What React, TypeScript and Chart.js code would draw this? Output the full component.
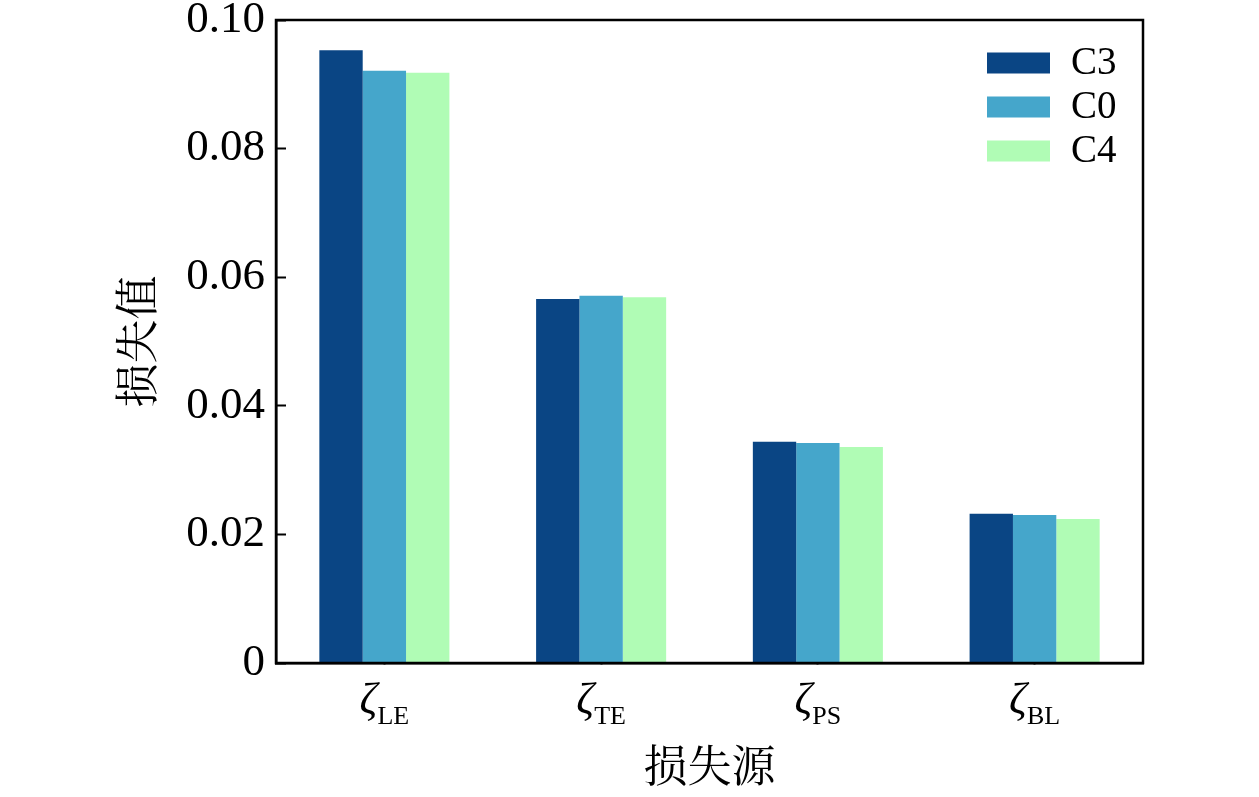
import React, { useEffect, useRef } from 'react';
import { Chart, registerables } from 'chart.js';

Chart.register(...registerables);

// loss sources (subscripts of ζ) and series
const sources = ['LE', 'TE', 'PS', 'BL'];
const seriesNames = ['C3', 'C0', 'C4'];
const c3Values = [0.0953, 0.0566, 0.0344, 0.0232];
const c0Values = [0.0921, 0.0571, 0.0342, 0.023];
const c4Values = [0.0918, 0.0569, 0.0336, 0.0224];
const seriesColors = ['#0a4584', '#45a6cb', '#b0fcb5'];
const yTickValues = [0, 0.02, 0.04, 0.06, 0.08, 0.1];
const yTitle = '损失值';
const xTitle = '损失源';

const SERIF = '"Liberation Serif", "Times New Roman", serif';
const CJK = '"Liberation Serif", "Noto Serif CJK SC", "Noto Sans CJK SC", serif';

const decor = {
  id: 'decor',
  afterDraw(chart: any) {
    const { ctx, chartArea: a, scales } = chart;
    ctx.save();
    // frame
    ctx.strokeStyle = '#000';
    ctx.lineWidth = 2.5;
    ctx.strokeRect(a.left, a.top, a.right - a.left, a.bottom - a.top);

    // x labels: ζ with subscript
    ctx.fillStyle = '#000';
    ctx.textAlign = 'left';
    ctx.textBaseline = 'alphabetic';
    sources.forEach((s, i) => {
      const px = scales.x.getPixelForTick(i);
      ctx.font = `italic 44px ${SERIF}`;
      const zw = ctx.measureText('ζ').width;
      ctx.font = `26px ${SERIF}`;
      const sw = ctx.measureText(s).width;
      const start = px - (zw + sw) / 2;
      ctx.font = `italic 44px ${SERIF}`;
      ctx.fillText('ζ', start, 713);
      ctx.font = `26px ${SERIF}`;
      ctx.fillText(s, start + zw, 724);
    });

    // legend
    ctx.font = `39px ${SERIF}`;
    ctx.textBaseline = 'middle';
    chart.data.datasets.forEach((ds: any, i: number) => {
      const cy = a.top + 43 + i * 44;
      ctx.fillStyle = ds.backgroundColor;
      ctx.fillRect(a.right - 156, cy - 10.5, 63, 21);
      ctx.fillStyle = '#000';
      ctx.fillText(ds.label, a.right - 72, cy + 1);
    });
    ctx.restore();
  },
};

export default function App() {
  const ref = useRef<HTMLCanvasElement>(null);
  useEffect(() => {
    if (!ref.current) return;
    const ctx = ref.current.getContext('2d');
    if (!ctx) return;
    const values = [c3Values, c0Values, c4Values];
    const chart = new Chart(ctx, {
      type: 'bar',
      data: {
        labels: sources,
        datasets: seriesNames.map((name, i) => ({
          label: name,
          data: values[i],
          backgroundColor: seriesColors[i],
          borderWidth: 0,
          categoryPercentage: 0.6,
          barPercentage: 1.0,
        })),
      },
      options: {
        responsive: true,
        maintainAspectRatio: false,
        animation: false,
        layout: { padding: { left: 0, right: 116, top: 0, bottom: 0 } },
        plugins: { legend: { display: false }, tooltip: { enabled: false } },
        scales: {
          x: {
            afterFit: (s: any) => { s.height = 134; },
            grid: { offset: false, drawOnChartArea: false, tickLength: -10, tickWidth: 2, tickColor: '#000' },
            border: { color: '#000', width: 2.5 },
            ticks: { display: false },
            title: { display: true, text: xTitle, color: '#000', font: { family: CJK, size: 44 }, padding: { top: 0, bottom: 0 } },
          },
          y: {
            min: 0,
            max: 0.1,
            afterFit: (s: any) => { s.width = 276; s.paddingTop = 20; },
            afterBuildTicks: (s: any) => { s.ticks = yTickValues.map((v) => ({ value: v })); },
            grid: { drawOnChartArea: false, tickLength: -10, tickWidth: 2, tickColor: '#000' },
            border: { color: '#000', width: 2.5 },
            ticks: {
              color: '#000',
              padding: 21,
              font: { family: SERIF, size: 45, lineHeight: 0.85 },
              callback: (v: any) => (Number(v) === 0 ? '0' : Number(v).toFixed(2)),
            },
            title: { display: true, text: yTitle, color: '#000', font: { family: CJK, size: 44 }, padding: { top: 115, bottom: 0 } },
          },
        },
      },
      plugins: [decor],
    });
    return () => chart.destroy();
  }, []);

  return (
    <div style={{ position: 'fixed', left: 0, top: 0, width: 1259, height: 797, background: '#fff' }}>
      <canvas ref={ref}></canvas>
    </div>
  );
}
